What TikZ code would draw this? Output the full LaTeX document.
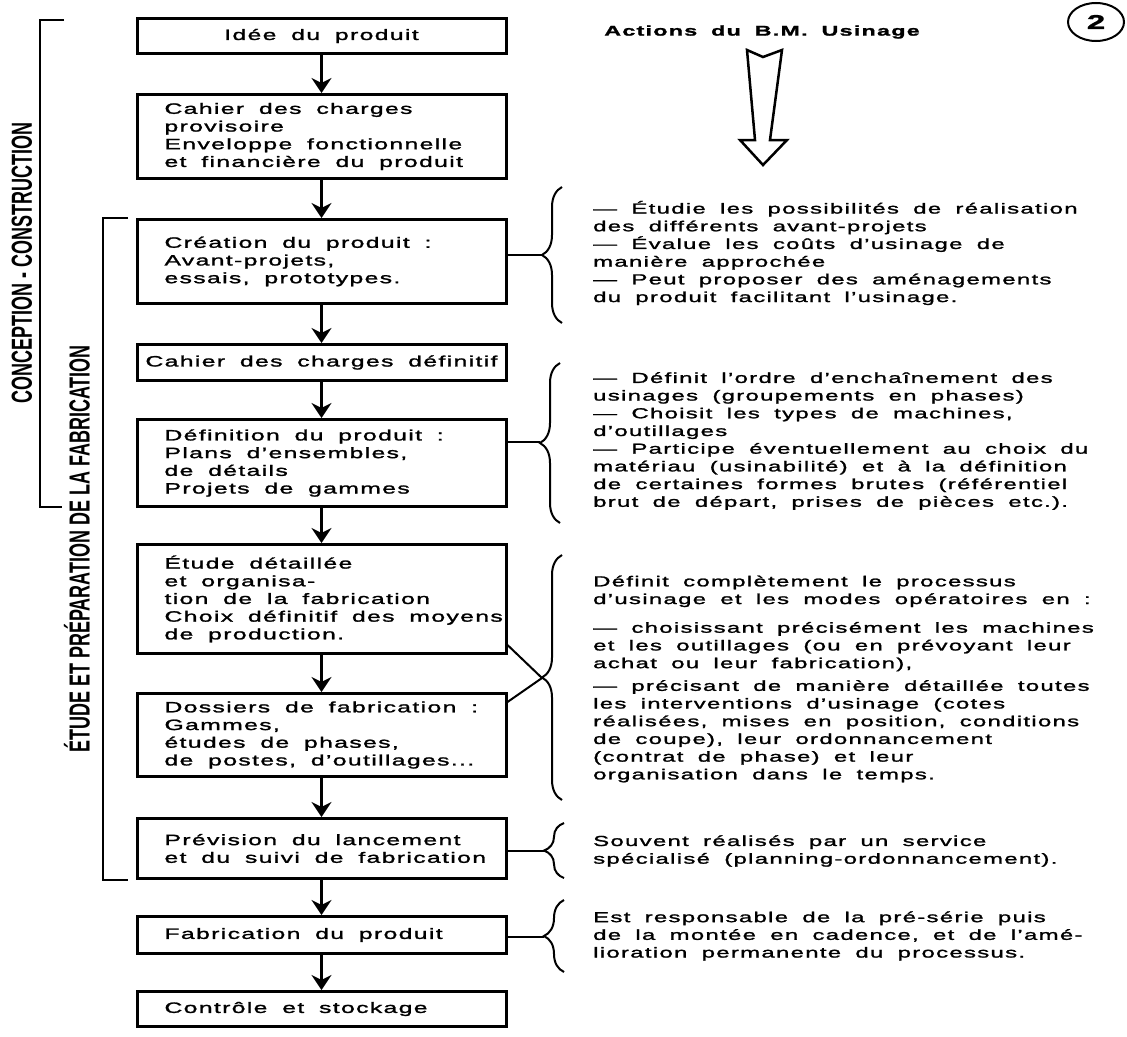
\documentclass[tikz,border=0pt]{standalone}
\usepackage{fontspec}
\setmainfont{Liberation Sans}[FakeStretch=1.65,LetterSpace=9,WordSpace=1.8,FakeBold=1.6]
\newfontfamily\sidefont{Liberation Sans}[FakeStretch=0.62]
\usetikzlibrary{arrows.meta,decorations.pathreplacing,shapes.geometric}

\begin{document}
\begin{tikzpicture}[x=1pt,y=1pt,
  cbox/.style={draw,line width=3pt,rectangle,minimum width=369pt,inner xsep=4pt,align=center,font=\fontsize{15}{17.7}\selectfont},
  lbox/.style={draw,line width=3pt,rectangle,minimum width=369pt,text width=314pt,inner xsep=27.5pt,inner ysep=2pt,align=left,font=\fontsize{15}{17.7}\selectfont,
    execute at begin node={\spaceskip=\fontdimen2\font\relax}},
  arr/.style={line width=3pt,-{Stealth[length=15pt,width=20pt,inset=5pt]}},
  bracket/.style={line width=2pt},
  brc/.style={line width=2pt,decorate,decoration={brace,amplitude=20pt}},
  side/.style={rotate=90,font=\sidefont\bfseries\fontsize{29}{30}\selectfont},
  txt/.style={anchor=west,inner sep=0pt,align=left,font=\fontsize{14.5}{17.7}\selectfont}]
\useasboundingbox (0,0) rectangle (1127,-1036);
\node [cbox,minimum height=35pt] (a) at (321.5,-36) {Idée du produit};
\node [lbox,minimum height=84pt] (b) at (321.5,-136.5) {Cahier des charges\\provisoire\\Enveloppe fonctionnelle\\et financière du produit};
\node [lbox,minimum height=84pt] (c) at (321.5,-261.5) {Création du produit :\\Avant-projets,\\essais, prototypes.};
\node [cbox,minimum height=36pt] (d) at (321.5,-362.5) {Cahier des charges définitif};
\node [lbox,minimum height=87pt] (e) at (321.5,-463) {Définition du produit :\\Plans d'ensembles,\\de détails\\Projets de gammes};
\node [lbox,minimum height=109pt] (f) at (321.5,-599) {Étude détaillée\\et organisa-\\tion de la fabrication\\\mbox{Choix définitif des moyens}\\de production.};
\node [lbox,minimum height=83pt] (g) at (321.5,-735) {\mbox{Dossiers de fabrication :}\\Gammes,\\études de phases,\\\mbox{de postes, d'outillages...}};
\node [lbox,minimum height=60pt] (h) at (321.5,-848.5) {Prévision du lancement\\\mbox{et du suivi de fabrication}};
\node [lbox,minimum height=37pt] (i) at (321.5,-935) {Fabrication du produit};
\node [lbox,minimum height=35pt] (j) at (321.5,-1009) {Contrôle et stockage};
\draw [arr] (a) -- (b);
\draw [arr] (b) -- (c);
\draw [arr] (c) -- (d);
\draw [arr] (d) -- (e);
\draw [arr] (e) -- (f);
\draw [arr] (f) -- (g);
\draw [arr] (g) -- (h);
\draw [arr] (h) -- (i);
\draw [arr] (i) -- (j);
\draw [bracket] (64,-20) -- (40,-20) -- (40,-507) -- (62,-507);
\draw [bracket] (128,-218) -- (103,-218) -- (103,-880) -- (128,-880);
\node [side] (k) at (22,-263) {CONCEPTION - CONSTRUCTION};
\node [side] (l) at (77,-549) {ÉTUDE ET PRÉPARATION DE LA FABRICATION};
\node [font=\bfseries\fontsize{14.1}{18}\selectfont] (m) at (762,-32) {Actions du B.M. Usinage};
\node [draw,ellipse,line width=2pt,minimum width=56pt,minimum height=38pt,font=\bfseries\fontsize{20}{22}\selectfont] (n) at (1096,-22) {2};
\draw [line width=2.5pt,line join=miter] (747,-50) -- (763,-57) -- (782,-50) -- (770,-140) -- (787,-140) -- (763,-165) -- (740,-140) -- (755,-140) -- cycle;
\coordinate (t1) at (542,-255);
\coordinate (t2) at (540,-442);
\coordinate (t3) at (542,-678);
\coordinate (t4) at (544,-851);
\coordinate (t5) at (544,-937);
\draw [brc] (562,-323) -- (562,-187);
\draw [brc] (560,-523) -- (560,-363);
\draw [brc] (562,-800) -- (562,-555);
\draw [brc] (564,-878) -- (564,-823);
\draw [brc] (564,-972) -- (564,-900);
\draw [bracket] (c.east |- t1) -- (t1);
\draw [bracket] (e.east |- t2) -- (t2);
\draw [bracket] ([yshift=10pt]f.south east) -- (t3);
\draw [bracket] ([yshift=-10pt]g.north east) -- (t3);
\draw [bracket] (h.east |- t4) -- (t4);
\draw [bracket] (i.east |- t5) -- (t5);
\node [txt] (o) at (593,-253) {--- Étudie les possibilités de réalisation\\des différents avant-projets\\--- Évalue les coûts d'usinage de\\manière approchée\\--- Peut proposer des aménagements\\du produit facilitant l'usinage.};
\node [txt] (p) at (593,-441) {--- Définit l'ordre d'enchaînement des\\usinages (groupements en phases)\\--- Choisit les types de machines,\\d'outillages\\--- Participe éventuellement au choix du\\matériau (usinabilité) et à la définition\\de certaines formes brutes (référentiel\\brut de départ, prises de pièces etc.).};
\node [txt] (q) at (593,-679) {Définit complètement le processus\\d'usinage et les modes opératoires en :\\[11pt]--- choisissant précisément les machines\\et les outillages (ou en prévoyant leur\\achat ou leur fabrication),\\[5pt]--- précisant de manière détaillée toutes\\les interventions d'usinage (cotes\\réalisées, mises en position, conditions\\de coupe), leur ordonnancement\\(contrat de phase) et leur\\organisation dans le temps.};
\node [txt] (r) at (593,-851) {Souvent réalisés par un service\\spécialisé (planning-ordonnancement).};
\node [txt] (s) at (593,-936) {Est responsable de la pré-série puis\\de la montée en cadence, et de l'amé-\\lioration permanente du processus.};
\end{tikzpicture}
\end{document}
